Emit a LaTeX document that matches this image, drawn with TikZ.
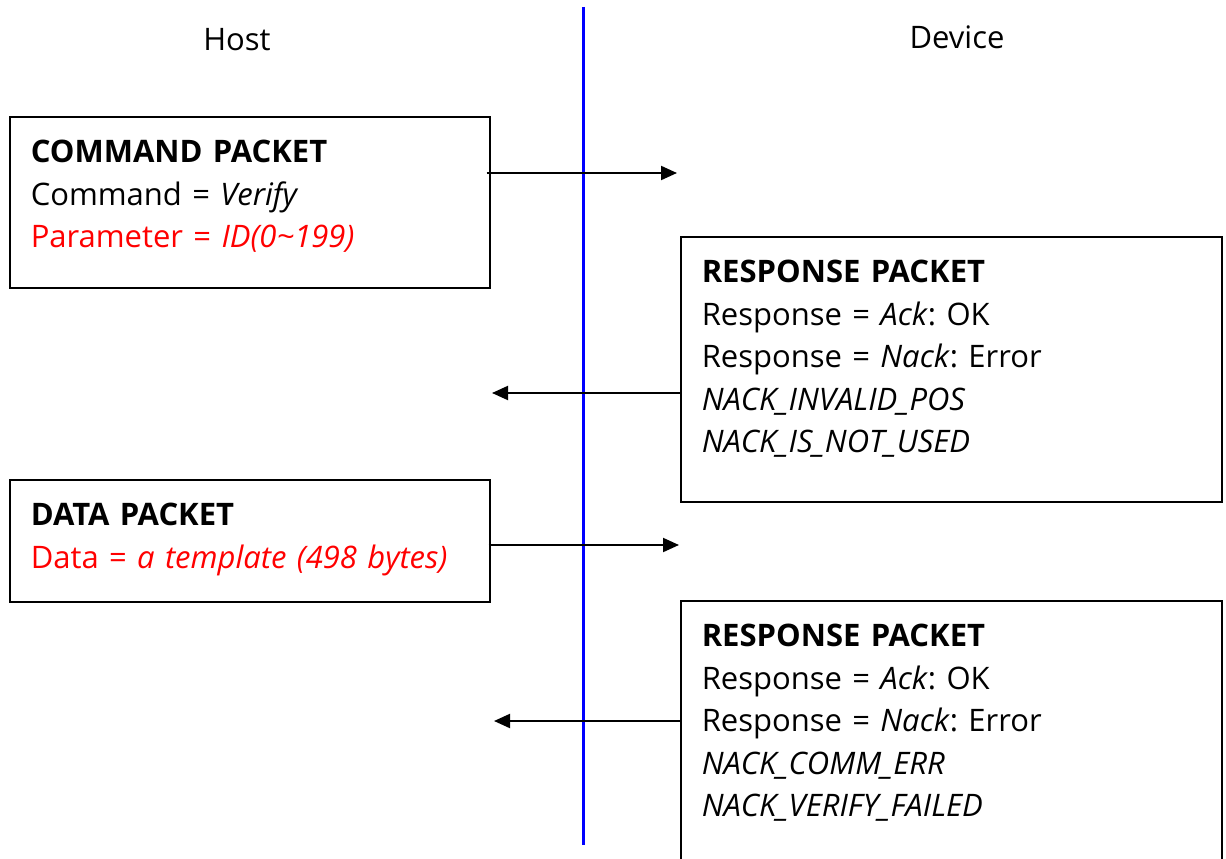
\documentclass[tikz,border=0pt]{standalone}
\usepackage{fontspec}
\setmainfont{Open Sans}
\frenchspacing
\usetikzlibrary{arrows.meta}

\tikzset{
	packet/.style={draw, line width=1.5pt, rectangle, anchor=north west, align=left,
		inner xsep=21pt, inner ysep=0pt, text height=46pt,
		font=\fontsize{31}{42.5}\selectfont},
	side/.style={font=\fontsize{31}{42.5}\selectfont},
	msg/.style={line width=2pt, -{Triangle[length=16pt,width=14pt]}},
	lifeline/.style={blue, line width=3pt},
}

\begin{document}
\begin{tikzpicture}[x=1pt, y=-1pt]
			\path[use as bounding box, clip] (0,0) rectangle (1226,859);
			% sides
			\node[side] (host) at (237,40) {Host};
			\node[side] (device) at (957,37) {Device};
			\coordinate (ltop) at (583,7);
			\coordinate (lbot) at (583,845);
			\draw[lifeline] (ltop) -- (lbot);
			% packets
			\node[packet, text width=438pt, text depth=125pt] (cmd) at (9,116) {
				\textbf{COMMAND PACKET}\\
				Command = \textit{Verify}\\
				\textcolor{red}{Parameter = \textit{ID(0\textasciitilde199)}}
			};
			\node[packet, text width=499pt, text depth=219pt] (resp1) at (680,236) {
				\textbf{RESPONSE PACKET}\\
				Response = \textit{Ack}: OK\\
				Response = \textit{Nack}: Error\\
				\textit{NACK\_INVALID\_POS}\\
				\textit{NACK\_IS\_NOT\_USED}
			};
			\node[packet, text width=438pt, text depth=76pt] (data) at (9,479) {
				\textbf{DATA PACKET}\\
				\textcolor{red}{Data = \textit{a template (498 bytes)}}
			};
			\node[packet, text width=499pt, text depth=232pt] (resp2) at (680,600) {
				\textbf{RESPONSE PACKET}\\
				Response = \textit{Ack}: OK\\
				Response = \textit{Nack}: Error\\
				\textit{NACK\_COMM\_ERR}\\
				\textit{NACK\_VERIFY\_FAILED}
			};
			% messages
			\coordinate (m1) at (677,173);
			\coordinate (m2) at (492,393);
			\coordinate (m3) at (679,545);
			\coordinate (m4) at (494,721);
			\draw[msg] ([xshift=-4pt]cmd.east |- m1) -- (m1);
			\draw[msg] (resp1.west |- m2) -- (m2);
			\draw[msg] ([xshift=-2pt]data.east |- m3) -- (m3);
			\draw[msg] (resp2.west |- m4) -- (m4);
\end{tikzpicture}
\end{document}
